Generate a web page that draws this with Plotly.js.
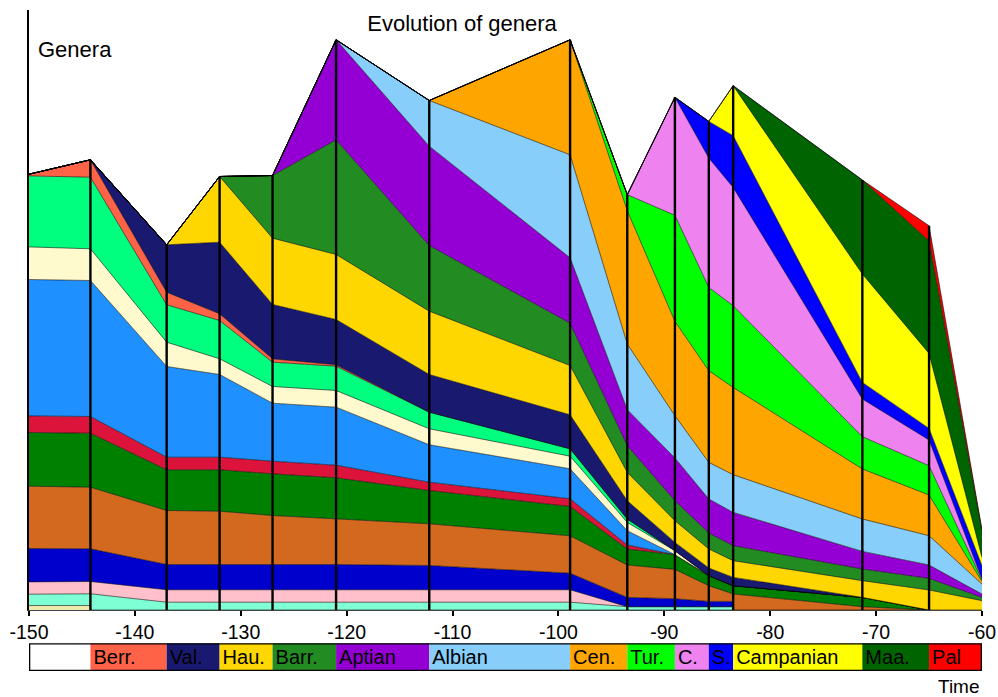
<!DOCTYPE html>
<html><head><meta charset="utf-8">
<script src="https://cdn.plot.ly/plotly-3.0.1.min.js"></script>
<style>html,body{margin:0;padding:0;background:#fff}#chart{width:998px;height:697px}</style>
</head><body><div id="chart"></div>
<script>
// Sample times (Ma, negative = before present); repeated times carry values just before / just after a boundary
const timePoints = [-150, -144.2, -144.2, -137, -132, -127, -121, -112.2, -98.9, -93.5, -89, -85.8, -83.5, -83.5, -71.3, -65, -60];

// Genera counts per origin group (bottom to top of the stack)
const khakiGroup      = [4.5, 4.5, 0, 0, 0, 0, 0, 0, 0, 0, 0, 0, 0, 0, 0, 0, 0];
const aquamarineGroup = [11.3, 11.7, 16.2, 7.8, 7.8, 7.8, 7.8, 7.8, 7.8, 3.3, 3.3, 3.3, 3.3, 0, 0, 0, 0];
const pinkGroup       = [12.3, 12.3, 12.3, 12.4, 12.4, 12.4, 12.4, 12.4, 12.4, 0, 0, 0, 0, 0, 0, 0, 0];
const mediumBlueGroup = [33.4, 32.7, 32.7, 25.3, 25.3, 25.3, 25.3, 24.3, 16.6, 9.3, 8, 5.3, 5.3, 0, 0, 0, 0];
const chocolateGroup  = [62.3, 61.6, 61.6, 54, 53.3, 49, 45.7, 41.7, 37.4, 32.4, 29.3, 15.7, 7.4, 16, 3.3, 0, 0];
const greenGroup      = [53.7, 54, 54, 40.7, 41.4, 41.7, 41, 33.3, 29.3, 16, 14.7, 10, 8.3, 8.3, 9.3, 0, 0];
const crimsonGroup    = [16.6, 16.7, 16.7, 12.6, 12.6, 12.6, 12.6, 8.3, 7.7, 4, 0, 0, 0, 0, 0, 0, 0];
const dodgerBlueGroup = [136.4, 136, 136, 90.7, 82.7, 58, 58, 37.4, 30, 14.3, 0, 0, 0, 0, 0, 0, 0];
const lemonGroup      = [32.6, 31.7, 31.7, 24.3, 15.7, 16.7, 16.7, 16, 12.6, 8.3, 4, 0, 0, 0, 0, 0, 0];
const springGroup     = [71, 71.6, 71.6, 37.4, 38.3, 24.3, 24.3, 16.6, 7.4, 3.4, 0, 0, 0, 0, 0, 0, 0];
const berriasian      = [1.7, 17.4, 17.4, 12.6, 6.7, 3.4, 1.4, 0, 0, 0, 0, 0, 0, 0, 0, 0, 0];
const valanginian     = [0, 0, 0, 47.4, 71.6, 54.3, 45.3, 37.7, 34, 18.3, 8.3, 7.7, 8.3, 8.3, 0, 0, 0];
const hauterivian     = [0, 0, 0, 0, 65.7, 66.3, 65, 63.3, 49.3, 28.3, 21.7, 19, 16.7, 16.7, 16.7, 20, 9.3];
const barremian       = [0, 0, 0, 0, 0, 62.7, 114.7, 65.7, 42.3, 26.7, 20, 16, 15, 15, 11.7, 11.6, 3.3];
const aptian          = [0, 0, 0, 0, 0, 0, 100, 99.3, 65.4, 36, 42.7, 34, 33.3, 33.3, 17.6, 13.4, 3.3];
const albian          = [0, 0, 0, 0, 0, 0, 0, 45.7, 103, 65.7, 42.3, 36.6, 37.7, 37.7, 32.4, 29.3, 10];
const cenomanian      = [0, 0, 0, 0, 0, 0, 0, 0, 115, 133.3, 94.4, 91.7, 87.3, 87.3, 50, 40.7, 2.5];
const turonian        = [0, 0, 0, 0, 0, 0, 0, 0, 0, 16, 106, 83.3, 81.7, 81.7, 32.3, 29.3, 1.5];
const coniacian       = [0, 0, 0, 0, 0, 0, 0, 0, 0, 0, 118, 129.4, 118.3, 118.3, 37.7, 25.7, 1];
const santonian       = [0, 0, 0, 0, 0, 0, 0, 0, 0, 0, 0, 36.6, 51.7, 51.7, 16.6, 11.6, 13.3];
const campanian       = [0, 0, 0, 0, 0, 0, 0, 0, 0, 0, 0, 0, 50, 50, 108.4, 75, 8.3];
const maastrichtian   = [0, 0, 0, 0, 0, 0, 0, 0, 0, 0, 0, 0, 0, 0, 94, 112.4, 26.7];
const paleogene       = [0, 0, 0, 0, 0, 0, 0, 0, 0, 0, 0, 0, 0, 0, 0, 15.3, 1];

const layerValues = [khakiGroup, aquamarineGroup, pinkGroup, mediumBlueGroup, chocolateGroup, greenGroup,
  crimsonGroup, dodgerBlueGroup, lemonGroup, springGroup, berriasian, valanginian, hauterivian, barremian,
  aptian, albian, cenomanian, turonian, coniacian, santonian, campanian, maastrichtian, paleogene];
const layerColors = ['#EEE8AA', '#7FFFD4', '#FFC0CB', '#0000CD', '#D2691E', '#008000', '#DC143C', '#1E90FF',
  '#FFFACD', '#00FF7F', '#FF6347', '#191970', '#FFD700', '#228B22', '#9400D3', '#87CEFA', '#FFA500',
  '#00FF00', '#EE82EE', '#0000FF', '#FFFF00', '#006400', '#FF0000'];

// Time scale
const stageStarts = [-150, -144.2, -137, -132, -127, -121, -112.2, -98.9, -93.5, -89, -85.8, -83.5, -71.3, -65];
const stageEnds   = [-144.2, -137, -132, -127, -121, -112.2, -98.9, -93.5, -89, -85.8, -83.5, -71.3, -65, -60];
const stageNames  = ['', 'Berr.', 'Val.', 'Hau.', 'Barr.', 'Aptian', 'Albian', 'Cen.', 'Tur.', 'C.', 'S.', 'Campanian', 'Maa.', 'Pal'];
const stageColors = ['#FFFFFF', '#FF6347', '#191970', '#FFD700', '#228B22', '#9400D3', '#87CEFA', '#FFA500',
  '#00FF00', '#EE82EE', '#0000FF', '#FFFF00', '#006400', '#FF0000'];
const xTicks = [-150, -140, -130, -120, -110, -100, -90, -80, -70, -60];
const xTickLabels = ['-150', '-140', '-130', '-120', '-110', '-100', '-90', '-80', '-70', '-60'];

const FONT = 'Liberation Sans, Arial, sans-serif';
const traces = [];
let cum = timePoints.map(() => 0);
layerValues.forEach((vals, i) => {
  cum = cum.map((c, j) => c + vals[j]);
  traces.push({
    x: timePoints, y: cum.slice(), type: 'scatter', mode: 'lines',
    fill: i === 0 ? 'tozeroy' : 'tonexty', fillcolor: layerColors[i],
    line: {color: 'rgba(0,0,0,0.7)', width: 0.8}, hoverinfo: 'skip', showlegend: false
  });
});
// boundary verticals up to the stack total
const vx = [], vy = [];
stageStarts.slice(1).forEach(b => {
  const j = timePoints.lastIndexOf(b);
  vx.push(b, b, null); vy.push(0, cum[j], null);
});
traces.push({x: vx, y: vy, type: 'scatter', mode: 'lines', line: {color: '#000', width: 2.4},
  hoverinfo: 'skip', showlegend: false});

// time scale bar
traces.push({
  type: 'bar', orientation: 'h', xaxis: 'x', yaxis: 'y2',
  y: stageStarts.map(() => 0), base: stageStarts, x: stageStarts.map((s, i) => stageEnds[i] - s),
  width: stageStarts.map(() => 1),
  marker: {color: stageColors, line: {width: 0}},
  text: stageNames, textposition: 'inside', insidetextanchor: 'start', textangle: 0, constraintext: 'none',
  textfont: {family: FONT, size: 20, color: '#000'}, hoverinfo: 'skip', showlegend: false
});
traces.push({
  type: 'bar', orientation: 'h', xaxis: 'x', yaxis: 'y2',
  y: [0], base: [stageStarts[0]], x: [stageEnds[stageEnds.length - 1] - stageStarts[0]], width: [1],
  marker: {color: 'rgba(0,0,0,0)', line: {color: '#000', width: 2.6}}, hoverinfo: 'skip', showlegend: false
});

const layout = {
  width: 998, height: 697,
  margin: {l: 29, r: 16, t: 10, b: 26},
  paper_bgcolor: '#fff', plot_bgcolor: 'rgba(0,0,0,0)',
  barmode: 'overlay', hovermode: false, showlegend: false,
  font: {family: FONT, color: '#000'},
  title: {text: 'Evolution of genera', font: {family: FONT, size: 22, color: '#000'},
    xref: 'container', x: 0.463, xanchor: 'center', yref: 'container', y: 0.966, yanchor: 'middle'},
  xaxis: {range: [-150, -60], anchor: 'y', showgrid: false, zeroline: false,
    showline: true, linecolor: '#444', linewidth: 1,
    tickmode: 'array', tickvals: xTicks, ticktext: xTickLabels, ticks: 'outside', ticklen: 5, tickwidth: 2, tickcolor: '#000',
    tickfont: {family: FONT, size: 19.5, color: '#000'}},
  yaxis: {domain: [0.0923, 1], range: [0, 600], showgrid: false, zeroline: false, showticklabels: false,
    ticks: '', showline: true, linecolor: '#000', linewidth: 2.5},
  yaxis2: {domain: [0, 0.0419], range: [-0.5, 0.5], showgrid: false, zeroline: false,
    showticklabels: false, ticks: '', showline: false},
  annotations: [
    {text: 'Genera', xref: 'x', x: -150, xshift: 7, xanchor: 'left', yref: 'paper', y: 0.9395, yanchor: 'middle',
      showarrow: false, font: {family: FONT, size: 22, color: '#000'}},
    {text: 'Time', xref: 'paper', x: 1, xanchor: 'right', yref: 'paper', y: -0.0227, yanchor: 'middle',
      showarrow: false, font: {family: FONT, size: 19, color: '#000'}}
  ]
};
Plotly.newPlot('chart', traces, layout, {displayModeBar: false, staticPlot: true});
</script></body></html>
